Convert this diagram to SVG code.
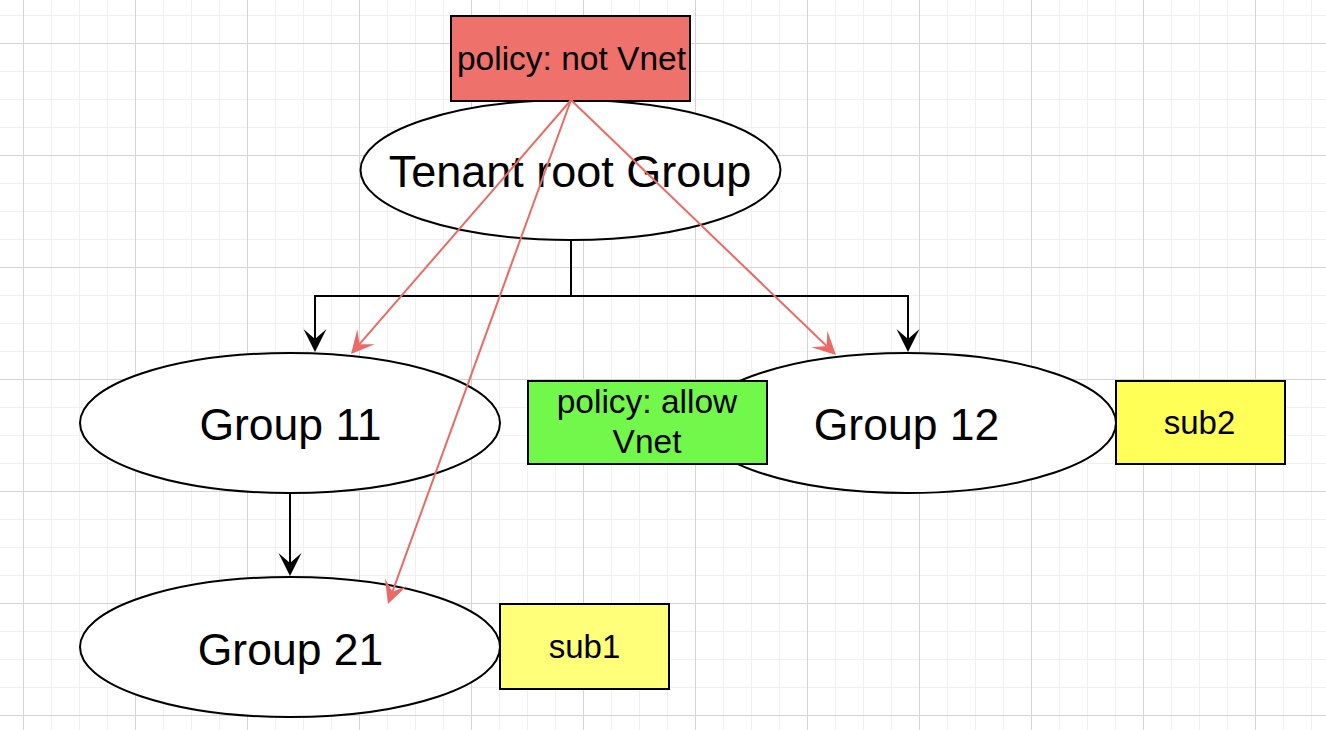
<svg xmlns="http://www.w3.org/2000/svg" width="1326" height="730" viewBox="0 0 1326 730">
  <style>
    .shape { stroke: #000; stroke-width: 2; }
    .ell { fill: #fff; }
    .lbl { font-family: "Liberation Sans", Arial, Helvetica, sans-serif; fill: #000; text-anchor: middle; }
    .big { font-size: 44.5px; }
    .huge { font-size: 45px; }
    .mid { font-size: 33.5px; }
    .small { font-size: 33px; }
    .edge { fill: none; stroke: #000; stroke-width: 2; }
    .edge-red { fill: none; stroke: #EA6B66; stroke-width: 2; }
  </style>
  <defs>
    <pattern id="minor" patternUnits="userSpaceOnUse" x="23" y="15" width="28" height="28">
      <rect x="0" y="0" width="1" height="28" fill="#f0f0f0"/>
      <rect x="0" y="0" width="28" height="1" fill="#f0f0f0"/>
    </pattern>
    <pattern id="major" patternUnits="userSpaceOnUse" x="23" y="43" width="112" height="112">
      <rect x="0" y="0" width="1" height="112" fill="#d4d4d4"/>
      <rect x="0" y="0" width="112" height="1" fill="#d4d4d4"/>
    </pattern>
    <marker id="ah-black" markerUnits="userSpaceOnUse" viewBox="0 0 24 24" markerWidth="24" markerHeight="24" refX="10" refY="12" orient="auto">
      <path d="M0,0.5 L23,12 L0,23.5 L10,12 Z" fill="#000"/>
    </marker>
    <marker id="ah-red" markerUnits="userSpaceOnUse" viewBox="0 0 24 24" markerWidth="24" markerHeight="24" refX="10" refY="12" orient="auto">
      <path d="M0,0.5 L23,12 L0,23.5 L10,12 Z" fill="#EA6B66"/>
    </marker>
  </defs>

  <rect x="0" y="0" width="1326" height="730" fill="#fff"/>
  <rect x="0" y="0" width="1326" height="730" fill="url(#minor)"/>
  <rect x="0" y="0" width="1326" height="730" fill="url(#major)"/>

  <g id="tenant-root">
    <ellipse class="shape ell" cx="570.5" cy="170" rx="210" ry="70"/>
    <text class="lbl huge" x="570" y="187">Tenant root Group</text>
  </g>

  <g id="policy-not-vnet">
    <rect class="shape" x="451" y="16" width="239" height="85" fill="#EE716B"/>
    <text class="lbl mid" x="571.5" y="70">policy: not Vnet</text>
  </g>

  <g id="group-11">
    <ellipse class="shape ell" cx="290" cy="423" rx="210" ry="70"/>
    <text class="lbl big" x="290.5" y="440">Group 11</text>
  </g>

  <g id="group-12">
    <ellipse class="shape ell" cx="907" cy="423" rx="209" ry="70"/>
    <text class="lbl big" x="906.5" y="440">Group 12</text>
  </g>

  <g id="policy-allow-vnet">
    <rect class="shape" x="528" y="381" width="239" height="83" fill="#72F84A"/>
    <text class="lbl mid" x="647" y="413">policy: allow</text>
    <text class="lbl mid" x="647" y="453">Vnet</text>
  </g>

  <g id="sub2">
    <rect class="shape" x="1116" y="381" width="169" height="83" fill="#FFFF57"/>
    <text class="lbl small" x="1199.5" y="434">sub2</text>
  </g>

  <g id="group-21">
    <ellipse class="shape ell" cx="290" cy="647" rx="210" ry="70"/>
    <text class="lbl big" x="290.5" y="665">Group 21</text>
  </g>

  <g id="sub1">
    <rect class="shape" x="500" y="604" width="169" height="85" fill="#FFFF7A"/>
    <text class="lbl small" x="584.5" y="658">sub1</text>
  </g>

  <g id="connectors">
    <path class="edge" d="M571 240 V296 H315 V339" marker-end="url(#ah-black)"/>
    <path class="edge" d="M571 296 H908 V339" marker-end="url(#ah-black)"/>
    <path class="edge" d="M290 493 V563" marker-end="url(#ah-black)"/>
    <path class="edge-red" d="M571 100 L359.5 344.2" marker-end="url(#ah-red)"/>
    <path class="edge-red" d="M571 100 L392.4 591.8" marker-end="url(#ah-red)"/>
    <path class="edge-red" d="M571 100 L826.6 346.0" marker-end="url(#ah-red)"/>
  </g>
</svg>
